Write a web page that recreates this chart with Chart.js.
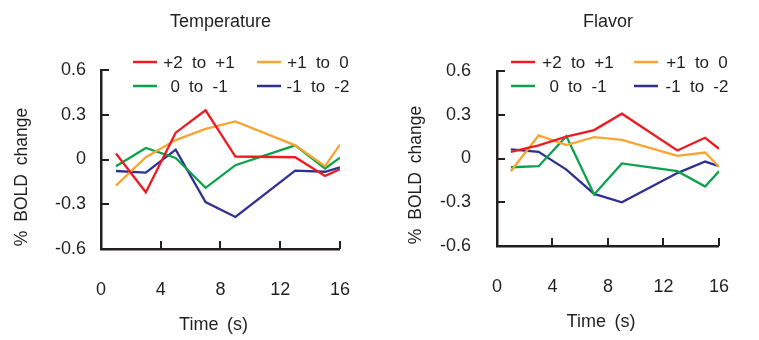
<!DOCTYPE html>
<html><head><meta charset="utf-8">
<script src="https://cdn.jsdelivr.net/npm/chart.js@4.4.0/dist/chart.umd.min.js"></script>
<style>
html,body{margin:0;padding:0;background:#fff;}
#wrap{position:relative;width:759px;height:340px;overflow:hidden;background:#fff;}
canvas{position:absolute;top:0;}
#c1{left:0;}
#c2{left:380px;}
</style></head><body>
<div id="wrap"><canvas id="c1" width="380" height="340"></canvas><canvas id="c2" width="379" height="340"></canvas></div>
<script>
// ---- data ----
const times = [1, 3, 5, 7, 9, 13, 15, 16];
const seriesLabels = ['+2 to +1', '+1 to 0', '0 to -1', '-1 to -2'];
const xTickValues = [0, 4, 8, 12, 16];
const yTickValues = [-0.6, -0.3, 0, 0.3, 0.6];

const tempP2toP1 = [0.04, -0.22, 0.18, 0.33, 0.02, 0.015, -0.11, -0.065];
const tempP1to0  = [-0.175, 0.015, 0.13, 0.205, 0.255, 0.095, -0.045, 0.10];
const temp0toM1  = [-0.045, 0.077, 0.01, -0.19, -0.038, 0.095, -0.06, 0.012];
const tempM1toM2 = [-0.077, -0.088, 0.066, -0.285, -0.385, -0.075, -0.082, -0.053];

const flavP2toP1 = [0.046, 0.09, 0.15, 0.195, 0.307, 0.055, 0.142, 0.067];
const flavP1to0  = [-0.087, 0.158, 0.092, 0.147, 0.128, 0.018, 0.041, -0.057];
const flav0toM1  = [-0.06, -0.053, 0.153, -0.247, -0.034, -0.087, -0.192, -0.087];
const flavM1toM2 = [0.062, 0.046, -0.076, -0.243, -0.30, -0.10, -0.021, -0.053];

// ---- styles ----
const COLORS = ['#ec1c24', '#f7a531', '#0ca14b', '#2e3192'];
const INK = '#231f20';
const FONT = '"Liberation Sans", Arial, Helvetica, sans-serif';

function toPoints(vals) { return vals.map((v, i) => ({ x: times[i], y: v })); }

function setWS(ctx, px) { if ('wordSpacing' in ctx) ctx.wordSpacing = px + 'px'; }

const decorPlugin = {
  id: 'decor',
  afterDatasetsDraw(chart, args, o) {
    const ctx = chart.ctx;
    const ca = chart.chartArea;
    const xs = chart.scales.x, ys = chart.scales.y;
    ctx.save();
    // inward tick marks
    ctx.strokeStyle = INK;
    ctx.lineWidth = 2;
    ctx.lineCap = 'butt';
    yTickValues.forEach(v => {
      const y = Math.round(ys.getPixelForValue(v));
      ctx.beginPath(); ctx.moveTo(ca.left, y); ctx.lineTo(ca.left + 8, y); ctx.stroke();
    });
    xTickValues.forEach(v => {
      const x = Math.round(xs.getPixelForValue(v));
      ctx.beginPath(); ctx.moveTo(x, ca.bottom); ctx.lineTo(x, ca.bottom - 8); ctx.stroke();
    });
    // legend
    ctx.font = '17px ' + FONT;
    ctx.textBaseline = 'middle';
    ctx.textAlign = 'center';
    setWS(ctx, 4.5);
    chart.data.datasets.forEach((ds, i) => {
      const col = i % 2, row = Math.floor(i / 2);
      const lx = o.legLineX[col], ly = o.legRowY[row];
      ctx.strokeStyle = ds.borderColor;
      ctx.lineWidth = 2.5;
      ctx.beginPath(); ctx.moveTo(lx, ly); ctx.lineTo(lx + 24, ly); ctx.stroke();
      ctx.fillStyle = INK;
      ctx.fillText(ds.label, o.legTextCX[col], ly + 1);
    });
    setWS(ctx, 0);
    // chart title
    ctx.fillStyle = INK;
    ctx.font = '18px ' + FONT;
    ctx.textAlign = 'center';
    ctx.fillText(o.title, (ca.left + ca.right) / 2, o.titleY);
    // x title
    setWS(ctx, 3.5);
    ctx.fillText('Time (s)', (ca.left + ca.right) / 2 + o.xTitleDX, o.xTitleY);
    // y title
    setWS(ctx, 4);
    ctx.font = '17.5px ' + FONT;
    ctx.translate(o.yTitleX, o.yTitleY);
    ctx.rotate(-Math.PI / 2);
    ctx.fillText('% BOLD change', 0, 0);
    setWS(ctx, 0);
    ctx.restore();
  }
};

function makeChart(id, seriesList, cfg) {
  const datasets = seriesList.map((vals, i) => ({
    label: seriesLabels[i],
    data: toPoints(vals),
    borderColor: COLORS[i],
    backgroundColor: COLORS[i],
    borderWidth: 2.3,
    pointRadius: 0,
    tension: 0,
    fill: false
  }));
  return new Chart(document.getElementById(id), {
    type: 'line',
    data: { datasets },
    plugins: [decorPlugin],
    options: {
      responsive: false,
      devicePixelRatio: 1,
      animation: false,
      events: [],
      layout: { padding: { left: 0, top: cfg.top, right: cfg.right, bottom: 0 } },
      plugins: {
        legend: { display: false },
        title: { display: false },
        tooltip: { enabled: false },
        decor: cfg.decor
      },
      scales: {
        x: {
          type: 'linear', min: 0, max: 16,
          afterFit: s => { s.height = cfg.xHeight; },
          afterBuildTicks: s => { s.ticks = xTickValues.map(v => ({ value: v })); },
          grid: { display: false, drawTicks: false },
          border: { display: true, color: INK, width: 2.5 },
          ticks: { color: INK, font: { family: FONT, size: 18 }, padding: cfg.xPad, maxRotation: 0, autoSkip: false }
        },
        y: {
          type: 'linear', min: -0.6, max: 0.6,
          afterFit: s => { s.width = cfg.yWidth; },
          afterBuildTicks: s => { s.ticks = yTickValues.map(v => ({ value: v })); },
          grid: { display: false, drawTicks: false },
          border: { display: true, color: INK, width: 2.5 },
          ticks: {
            color: INK, font: { family: FONT, size: 18 }, padding: cfg.yPad,
            callback: v => String(Math.round(v * 10) / 10)
          }
        }
      }
    }
  });
}

makeChart('c1', [tempP2toP1, tempP1to0, temp0toM1, tempM1toM2], {
  top: 70, right: 23, xHeight: 91, yWidth: 101, xPad: 30, yPad: 15,
  decor: { title: 'Temperature', titleY: 22, xTitleY: 325, xTitleDX: -7, yTitleX: 22, yTitleY: 177,
           legLineX: [133, 257], legRowY: [62, 86], legTextCX: [199, 318] }
});
makeChart('c2', [flavP2toP1, flavP1to0, flav0toM1, flavM1toM2], {
  top: 71, right: 11, xHeight: 94, yWidth: 117, xPad: 30, yPad: 26,
  decor: { title: 'Flavor', titleY: 22, xTitleY: 322, xTitleDX: -7, yTitleX: 36, yTitleY: 175,
           legLineX: [131, 254], legRowY: [62, 86], legTextCX: [198, 317] }
});
</script>
</body></html>
